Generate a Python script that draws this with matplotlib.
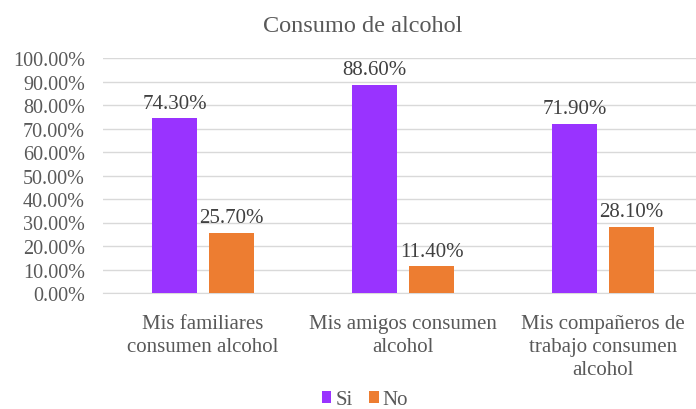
import numpy as np
import matplotlib.pyplot as plt
from matplotlib.ticker import PercentFormatter

categories = ["Mis familiares\nconsumen alcohol",
              "Mis amigos consumen\nalcohol",
              "Mis compañeros de\ntrabajo consumen\nalcohol"]
si = [74.30, 88.60, 71.90]
no = [25.70, 11.40, 28.10]
yticks = np.arange(0, 101, 10)

PURPLE = "#9933FF"
ORANGE = "#ED7D31"
TEXT = "#595959"

plt.rcParams["font.family"] = ["Liberation Serif", "DejaVu Serif"]

fig = plt.figure(figsize=(6.96, 4.10), dpi=100)
ax = fig.add_axes([103 / 696, 116 / 410, 600 / 696, 235 / 410])

x = np.arange(len(categories))
w = 0.225
off = 0.1425
b1 = ax.bar(x - off, si, w, color=PURPLE, label="Si", zorder=3)
b2 = ax.bar(x + off, no, w, color=ORANGE, label="No", zorder=3)

for bars, vals in ((b1, si), (b2, no)):
    for rect, v in zip(bars, vals):
        ax.annotate(f"{v:.2f}%", (rect.get_x() + rect.get_width() / 2, v),
                    xytext=(0, 4), textcoords="offset points",
                    ha="center", va="bottom", fontsize=15, color="#404040")

ax.set_xlim(-0.5, 2.5)
ax.set_ylim(0, 100)
ax.set_yticks(yticks)
ax.yaxis.set_major_formatter(PercentFormatter(decimals=2))
ax.set_xticks(x)
ax.set_xticklabels(categories, linespacing=1.3)
ax.tick_params(axis="y", length=0, pad=13, labelsize=14.5, labelcolor=TEXT)
ax.tick_params(axis="x", length=0, pad=15, labelsize=15, labelcolor=TEXT)
ax.grid(axis="y", color="#d9d9d9", linewidth=1, zorder=0)
for side in ("top", "right", "left"):
    ax.spines[side].set_visible(False)
ax.spines["bottom"].set_color("#d9d9d9")

fig.text(363 / 696, 1 - 26 / 410, "Consumo de alcohol", ha="center", va="center",
         fontsize=17.5, color=TEXT)

fig.legend(loc="center", bbox_to_anchor=(365 / 696, 1 - 401 / 410), ncol=2,
           frameon=False, fontsize=15, handlelength=0.45, handleheight=0.45,
           handletextpad=0.2, columnspacing=0.8, labelcolor=TEXT)

fig.savefig("out.png", dpi=100)
